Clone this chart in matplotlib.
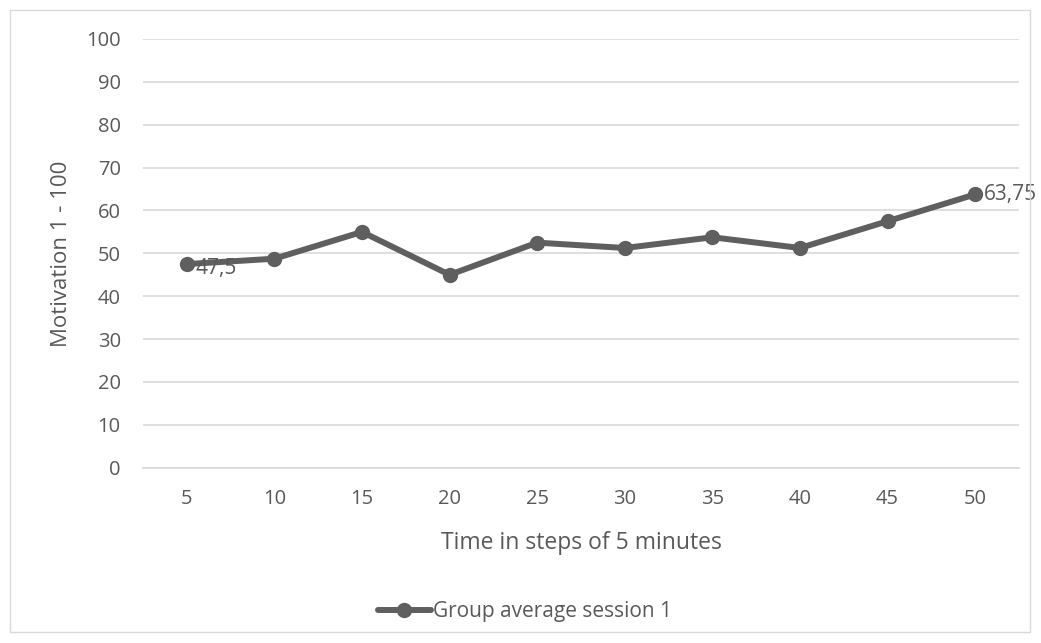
import matplotlib
matplotlib.use("Agg")
import matplotlib.pyplot as plt
from matplotlib.patches import Rectangle

minutes = [5, 10, 15, 20, 25, 30, 35, 40, 45, 50]
motivation = [47.5, 48.75, 55, 45, 52.5, 51.25, 53.75, 51.25, 57.5, 63.75]
series_name = "Group average session 1"
y_ticks = [0, 10, 20, 30, 40, 50, 60, 70, 80, 90, 100]
labels_shown = {0: "47,5", 9: "63,75"}

plt.rcParams['font.family'] = ['Open Sans', 'DejaVu Sans']
grey = "#595959"
line_col = "#5f5f5f"
grid_col = "#d9d9d9"

W, H = 1041, 643
fig = plt.figure(figsize=(W / 100, H / 100), dpi=100)
fig.patches.append(Rectangle((10 / W, 1 - 632 / H), 1020 / W, 622 / H, transform=fig.transFigure,
                             fill=False, edgecolor=grid_col, linewidth=1.0))

left, right = 143 / W, 1019 / W
top, bottom = 39 / H, 467.7 / H
ax = fig.add_axes([left, 1 - bottom, right - left, bottom - top])
ax.set_xlim(2.5, 52.5)
ax.set_ylim(0, 100)
ax.set_yticks(y_ticks)
ax.set_xticks(minutes)
ax.grid(axis='y', color=grid_col, linewidth=1.2)
ax.set_axisbelow(True)
for s in ['top', 'right', 'left']:
    ax.spines[s].set_visible(False)
ax.spines['bottom'].set_color(grid_col)
ax.spines['bottom'].set_linewidth(1.2)
ax.tick_params(length=0, colors=grey, labelsize=14.5)
ax.tick_params(axis='x', pad=15)
ax.tick_params(axis='y', pad=16)

ln, = ax.plot(minutes, motivation, color=line_col, linewidth=4.3, marker='o', markersize=10,
              label=series_name, solid_capstyle='round', clip_on=False)
offsets = {0: (6, -3), 9: (6, 0)}
for i, txt in labels_shown.items():
    ax.annotate(txt, (minutes[i], motivation[i]), xytext=offsets[i],
                textcoords='offset points', ha='left', va='center',
                color=grey, fontsize=15)

ax.set_xlabel("Time in steps of 5 minutes", color=grey, fontsize=16.5, labelpad=16)
ax.set_ylabel("Motivation 1 - 100", color=grey, fontsize=16, labelpad=10)

fig.legend(handles=[ln], loc='center', bbox_to_anchor=(525 / W, 1 - 612 / H), frameon=False,
           fontsize=15, labelcolor=grey, handlelength=2.5, handletextpad=0.1)

fig.savefig("out.png", dpi=100)
